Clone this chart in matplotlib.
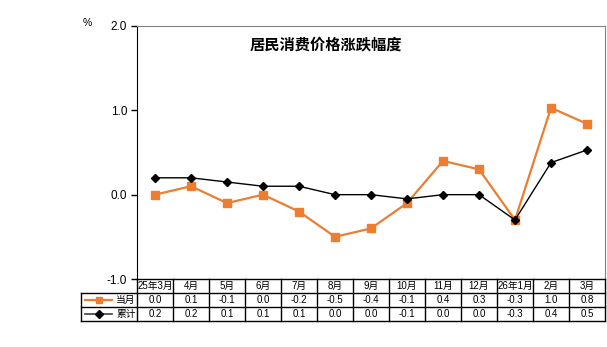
import numpy as np
import matplotlib
matplotlib.use("Agg")
import matplotlib.pyplot as plt
from matplotlib.transforms import blended_transform_factory
from matplotlib.lines import Line2D

plt.rcParams['font.family'] = ['Liberation Sans', 'Noto Sans CJK SC']

# data
months = ["25年3月", "4月", "5月", "6月", "7月", "8月", "9月", "10月",
          "11月", "12月", "26年1月", "2月", "3月"]
monthly = [0.0, 0.1, -0.1, 0.0, -0.2, -0.5, -0.4, -0.1, 0.4, 0.3, -0.3, 1.03, 0.84]
cumulative = [0.2, 0.2, 0.15, 0.1, 0.1, 0.0, 0.0, -0.05, 0.0, 0.0, -0.3, 0.38, 0.53]
monthly_labels = ["0.0", "0.1", "-0.1", "0.0", "-0.2", "-0.5", "-0.4", "-0.1",
                  "0.4", "0.3", "-0.3", "1.0", "0.8"]
cumulative_labels = ["0.2", "0.2", "0.1", "0.1", "0.1", "0.0", "0.0", "-0.1",
                     "0.0", "0.0", "-0.3", "0.4", "0.5"]
yticks = [-1.0, 0.0, 1.0, 2.0]

ORANGE = '#ED7D31'
W, H = 607, 347

def fx(x):
    return x / W

def fy(y):
    return 1 - y / H

fig = plt.figure(figsize=(W / 100, H / 100), dpi=100)
ax = fig.add_axes([fx(137), fy(279), fx(605) - fx(137), (279 - 26) / H])

x = np.arange(len(months))
ax.plot(x, monthly, color=ORANGE, lw=1.6, marker='s', ms=6, zorder=3)
ax.plot(x, cumulative, color='black', lw=1.0, marker='D', ms=4.5, zorder=4)

ax.set_xlim(-0.5, len(months) - 0.5)
ax.set_ylim(-1.0, 2.0)
ax.set_yticks(yticks)
ax.set_yticklabels([f"{v:.1f}" for v in yticks], fontsize=8.5)
ax.set_xticks([])
ax.tick_params(axis='y', direction='out', length=4, width=1, pad=3)
ax.spines['left'].set_color('black')
ax.spines['top'].set_color('#808080')
ax.spines['right'].set_color('#808080')
ax.spines['bottom'].set_visible(False)

fig.text(fx(326), fy(45), "居民消费价格涨跌幅度", ha='center', va='center',
         fontsize=11, fontweight='bold')
fig.text(fx(87), fy(23), "%", ha='center', va='center', fontsize=7.5)

# table below the plot
tr = blended_transform_factory(ax.transData, fig.transFigure)
lw = 1.0
fig.add_artist(Line2D([-0.5, len(months) - 0.5], [fy(279)] * 2,
                      transform=tr, color='black', lw=lw))
for yy in [293, 307, 321]:
    fig.add_artist(Line2D([fx(81), fx(605)], [fy(yy)] * 2,
                          transform=fig.transFigure, color='black', lw=lw))
for i in range(len(months) + 1):
    fig.add_artist(Line2D([i - 0.5, i - 0.5], [fy(279), fy(321)],
                          transform=tr, color='black', lw=lw))
fig.add_artist(Line2D([fx(81), fx(81)], [fy(293), fy(321)],
                      transform=fig.transFigure, color='black', lw=lw))

for i, m in enumerate(months):
    fig.text(i, fy(286), m, transform=tr, ha='center', va='center', fontsize=7)
    fig.text(i, fy(300), monthly_labels[i], transform=tr, ha='center', va='center', fontsize=7)
    fig.text(i, fy(314), cumulative_labels[i], transform=tr, ha='center', va='center', fontsize=7)

# legend cells
fig.add_artist(Line2D([fx(85), fx(98.5), fx(112)], [fy(300)] * 3, transform=fig.transFigure,
                      color=ORANGE, lw=1.6, marker='s', ms=5, markevery=[1]))
fig.add_artist(Line2D([fx(85), fx(98.5), fx(112)], [fy(314)] * 3, transform=fig.transFigure,
                      color='#404040', lw=1.2, marker='D', ms=4, markevery=[1],
                      markerfacecolor='black', markeredgecolor='black'))
fig.text(fx(126), fy(300), "当月", ha='center', va='center', fontsize=7)
fig.text(fx(126), fy(314), "累计", ha='center', va='center', fontsize=7)

fig.savefig("out.png", dpi=100)
